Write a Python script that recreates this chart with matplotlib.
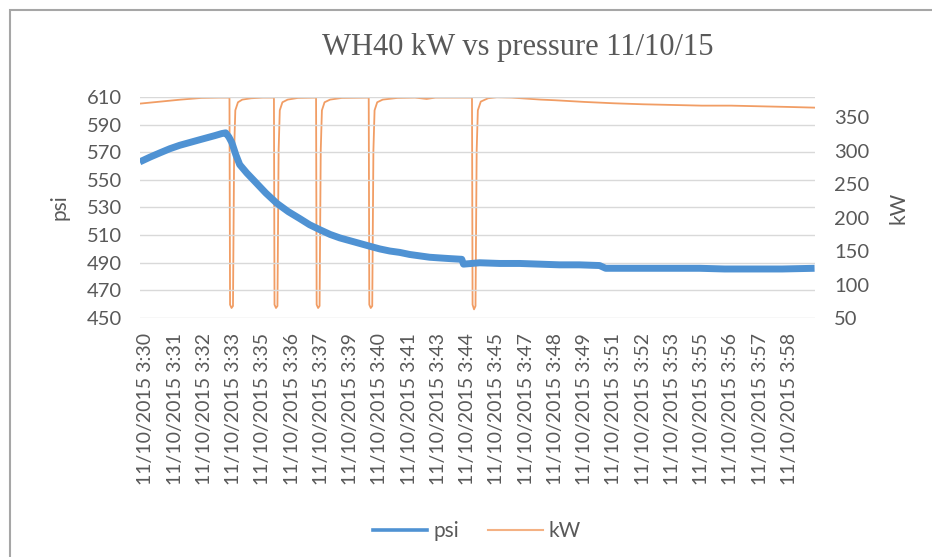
import matplotlib
matplotlib.use("Agg")
import matplotlib.pyplot as plt
from matplotlib.lines import Line2D
from matplotlib.patches import Rectangle

# category labels along the x axis (one every few samples)
tick_labels = ["11/10/2015 3:30", "11/10/2015 3:31", "11/10/2015 3:32", "11/10/2015 3:33",
               "11/10/2015 3:35", "11/10/2015 3:36", "11/10/2015 3:37", "11/10/2015 3:39",
               "11/10/2015 3:40", "11/10/2015 3:41", "11/10/2015 3:43", "11/10/2015 3:44",
               "11/10/2015 3:45", "11/10/2015 3:47", "11/10/2015 3:48", "11/10/2015 3:49",
               "11/10/2015 3:51", "11/10/2015 3:52", "11/10/2015 3:53", "11/10/2015 3:55",
               "11/10/2015 3:56", "11/10/2015 3:57", "11/10/2015 3:58"]

# psi readings (x in label positions)
psi_x = [-0.205, 0.15, 0.48, 0.82, 1.16, 1.5, 1.84, 2.1, 2.36, 2.6, 2.73, 2.84, 2.94,
         3.08, 3.21, 3.45, 3.72, 4.1, 4.48, 4.87, 5.26, 5.6, 5.94, 6.3, 6.63, 6.97,
         7.31, 7.65, 8.0, 8.34, 8.68, 9.02, 9.36, 9.7, 10.04, 10.4, 10.8, 10.86, 11.41,
         12.1, 12.78, 13.46, 14.14, 14.82, 15.51, 15.72, 16.47, 17.22, 18.08, 18.93,
         19.79, 20.64, 21.75, 22.86]
psi_val = [563, 566.5, 569.5, 572.5, 575, 577, 579, 580.5, 582, 583.5, 584, 581, 577,
           568, 561, 555, 549, 540.5, 533, 527, 522, 517.5, 514, 510.5, 508, 506,
           504, 502, 500, 498.5, 497.5, 496, 495, 494, 493.5, 493, 492.5, 489, 490,
           489.5, 489.5, 489, 488.5, 488.5, 488, 486, 486, 486, 486, 486,
           485.5, 485.5, 485.5, 486]

# kW readings (x in label positions)
kw_x = [-0.205, 0.5, 1.2, 1.9, 2.5, 2.86,
        2.88, 2.93, 2.98, 3.02, 3.06, 3.15, 3.3, 3.6, 4.0, 4.38,
        4.40, 4.45, 4.50, 4.54, 4.58, 4.67, 4.85, 5.2, 5.82,
        5.84, 5.89, 5.94, 5.98, 6.02, 6.11, 6.3, 6.7, 7.62,
        7.64, 7.69, 7.74, 7.78, 7.82, 7.91, 8.1, 8.6, 9.2, 9.6, 9.9, 10.5, 11.15,
        11.17, 11.22, 11.27, 11.31, 11.35, 11.45, 11.7, 12.0, 12.5, 13.0, 13.5, 14.0,
        15.0, 16.0, 17.0, 18.0, 19.0, 20.0, 21.0, 22.0, 22.86]
kw_val = [370, 373, 376, 378.5, 379, 379,
          70, 65, 68, 300, 360, 372, 376, 378, 379, 379,
          70, 65, 68, 300, 360, 372, 376, 378.5, 379,
          70, 65, 68, 300, 360, 372, 376, 378.5, 379,
          70, 65, 68, 300, 360, 372, 376, 378.5, 379, 377, 379, 379, 379,
          70, 63, 68, 300, 360, 373, 378, 379.5, 379, 377.5, 376, 375,
          372.5, 370.5, 369, 368, 367, 367, 366, 365, 364]

font = "Lato"
grey = "#595959"
blue = "#4F92D3"
orange = "#ED7D31"

fig = plt.figure(figsize=(9.32, 5.57), dpi=100)
ax1 = fig.add_axes([0.150, 0.429, 0.724, 0.397])

ax1.plot(psi_x, psi_val, color=blue, lw=5, solid_capstyle="butt", solid_joinstyle="round", zorder=3)
ax1.set_xlim(-0.205, 22.86)
ax1.set_ylim(450, 610)
ax1.set_yticks(range(450, 611, 20))
ax1.grid(axis="y", color="#D9D9D9", lw=1)
ax1.set_axisbelow(True)
ax1.set_xticks(range(len(tick_labels)))
ax1.set_xticklabels(tick_labels, rotation=90, fontsize=14, color=grey, family=font)
ax1.tick_params(axis="x", length=0, pad=11)
ax1.tick_params(axis="y", length=0, pad=13, labelsize=14.5, labelcolor=grey)
for lab in ax1.get_yticklabels():
    lab.set_family(font)
ax1.set_ylabel("psi", fontsize=15, color=grey, family=font, labelpad=12)
for s in ax1.spines.values():
    s.set_visible(False)

ax2 = ax1.twinx()
ax2.plot(kw_x, kw_val, color=orange, lw=1.3, alpha=0.75, zorder=4)
ax2.set_ylim(50, 380)
ax2.set_yticks(range(50, 351, 50))
ax2.tick_params(axis="y", length=0, pad=14, labelsize=14.5, labelcolor=grey)
for lab in ax2.get_yticklabels():
    lab.set_family(font)
ax2.set_ylabel("kW", fontsize=15, color=grey, family=font, labelpad=14)
for s in ax2.spines.values():
    s.set_visible(False)
ax1.set_zorder(ax2.get_zorder() + 1)
ax1.patch.set_visible(False)

fig.text(0.555, 0.915, "WH40 kW vs pressure 11/10/15", ha="center", va="center",
         fontsize=22, color=grey, family="Liberation Serif")

handles = [Line2D([], [], color=blue, lw=2.6), Line2D([], [], color=orange, lw=1.5, alpha=0.6)]
fig.legend(handles, ["psi", "kW"], loc="center", bbox_to_anchor=(0.512, 0.047), ncol=2,
           frameon=False, prop={"family": font, "size": 15}, labelcolor=grey,
           handlelength=2.6, columnspacing=1.4, handletextpad=0.3)

fig.patches.append(Rectangle((10 / 932, -0.1), 1.2, 1 - 10 / 557 + 0.1, transform=fig.transFigure,
                             fill=False, edgecolor="#A6A6A6", lw=1.5))

fig.savefig("out.png", dpi=100)
